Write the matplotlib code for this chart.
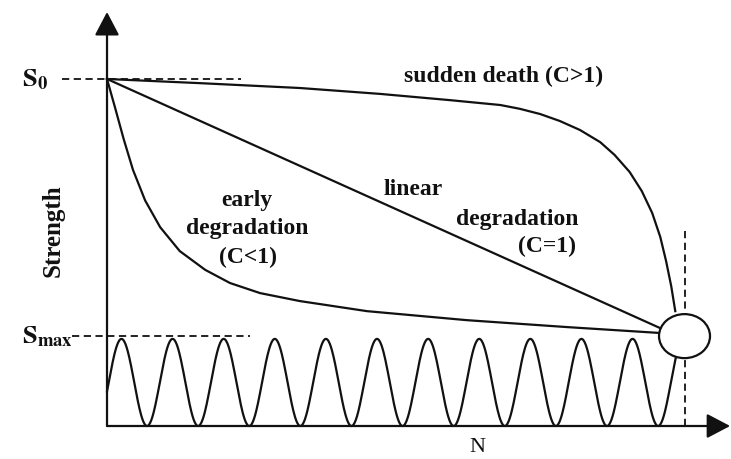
import matplotlib.pyplot as plt
import numpy as np
from matplotlib.patches import Ellipse

plt.rcParams['font.family'] = 'Liberation Serif'
plt.rcParams['mathtext.fontset'] = 'stix'

# Data (N normalised to the failure point, strength normalised to S0)
early_n = [0, 0.014, 0.029, 0.045, 0.066, 0.092, 0.126, 0.170, 0.213, 0.265,
           0.334, 0.450, 0.623, 0.797, 0.958]
early_s = [1.0, 0.917, 0.826, 0.738, 0.650, 0.573, 0.504, 0.450, 0.412, 0.383,
           0.360, 0.331, 0.305, 0.285, 0.268]

linear_n = [0, 0.958]
linear_s = [1.0, 0.282]

sudden_n = [0, 0.161, 0.334, 0.473, 0.594, 0.681, 0.715, 0.750, 0.784, 0.819,
            0.854, 0.879, 0.905, 0.926, 0.944, 0.958, 0.968, 0.977, 0.984]
sudden_s = [1.0, 0.988, 0.974, 0.957, 0.939, 0.925, 0.914, 0.899, 0.879, 0.853,
            0.818, 0.781, 0.732, 0.677, 0.614, 0.545, 0.476, 0.403, 0.331]

s0 = 1.0
s_max = 0.259
peak_load = 0.251
first_trough = 0.0693
period = 0.0885
load_end = 0.985

fig = plt.figure(figsize=(7.31, 4.60), dpi=100)
ax = fig.add_axes([0, 0, 1, 1])
ax.set_xlim(-0.1853, 1.0805)
ax.set_ylim(-0.0951, 1.2305)
ax.axis('off')

lw = 1.6
col = '#111111'

# axes with arrows
ax.annotate('', xy=(0, 1.193), xytext=(0, 0),
            arrowprops=dict(arrowstyle='-|>,head_length=0.8,head_width=0.42',
                            mutation_scale=18, lw=lw, color=col,
                            shrinkA=0, shrinkB=0))
ax.annotate('', xy=(1.079, 0), xytext=(0, 0),
            arrowprops=dict(arrowstyle='-|>,head_length=0.8,head_width=0.42',
                            mutation_scale=18, lw=lw, color=col,
                            shrinkA=0, shrinkB=0))

# reference dashed lines
ax.plot([-0.078, 0.232], [s0, s0], ls=(0, (4, 2.5)), color=col, lw=1.3)
ax.plot([-0.061, 0.248], [s_max, s_max], ls=(0, (4, 2.5)), color=col, lw=1.3)
ax.plot([1.0, 1.0], [0, 0.568], ls=(0, (4, 2.5)), color=col, lw=1.3)

# degradation curves
ax.plot(early_n, early_s, color=col, lw=lw, solid_joinstyle='round')
ax.plot(linear_n, linear_s, color=col, lw=lw)
ax.plot(sudden_n, sudden_s, color=col, lw=lw, solid_joinstyle='round')

# cyclic loading
n = np.linspace(0, load_end, 1000)
load = peak_load * (1 - np.cos(2 * np.pi * (n - first_trough) / period)) / 2
ax.plot(n, load, color=col, lw=lw)

# failure point
ax.add_patch(Ellipse((1.0, s_max), 0.0883, 0.1268, facecolor='white',
                     edgecolor=col, lw=lw, zorder=5))

# labels
kw = dict(fontsize=17, fontweight='bold', color=col, ha='center', va='center')
ax.text(0.686, 1.009, 'sudden death (C>1)', **kw)
ax.text(0.530, 0.683, 'linear', **kw)
ax.text(0.710, 0.597, 'degradation', **kw)
ax.text(0.762, 0.519, '(C=1)', **kw)
ax.text(0.242, 0.654, 'early', **kw)
ax.text(0.242, 0.573, 'degradation', **kw)
ax.text(0.244, 0.490, '(C<1)', **kw)

ax.text(-0.147, s0, r'$\mathbf{S_0}$', fontsize=19, color=col,
        ha='left', va='center')
ax.text(-0.147, s_max, r'$\mathbf{S_{max}}$', fontsize=19, color=col,
        ha='left', va='center')
ax.text(-0.0935, 0.565, 'Strength', fontsize=18, fontweight='bold', color=col,
        rotation=90, ha='center', va='center')
ax.text(0.641, -0.060, 'N', fontsize=16, color=col, ha='center', va='center')

plt.savefig('out.png', dpi=100)
